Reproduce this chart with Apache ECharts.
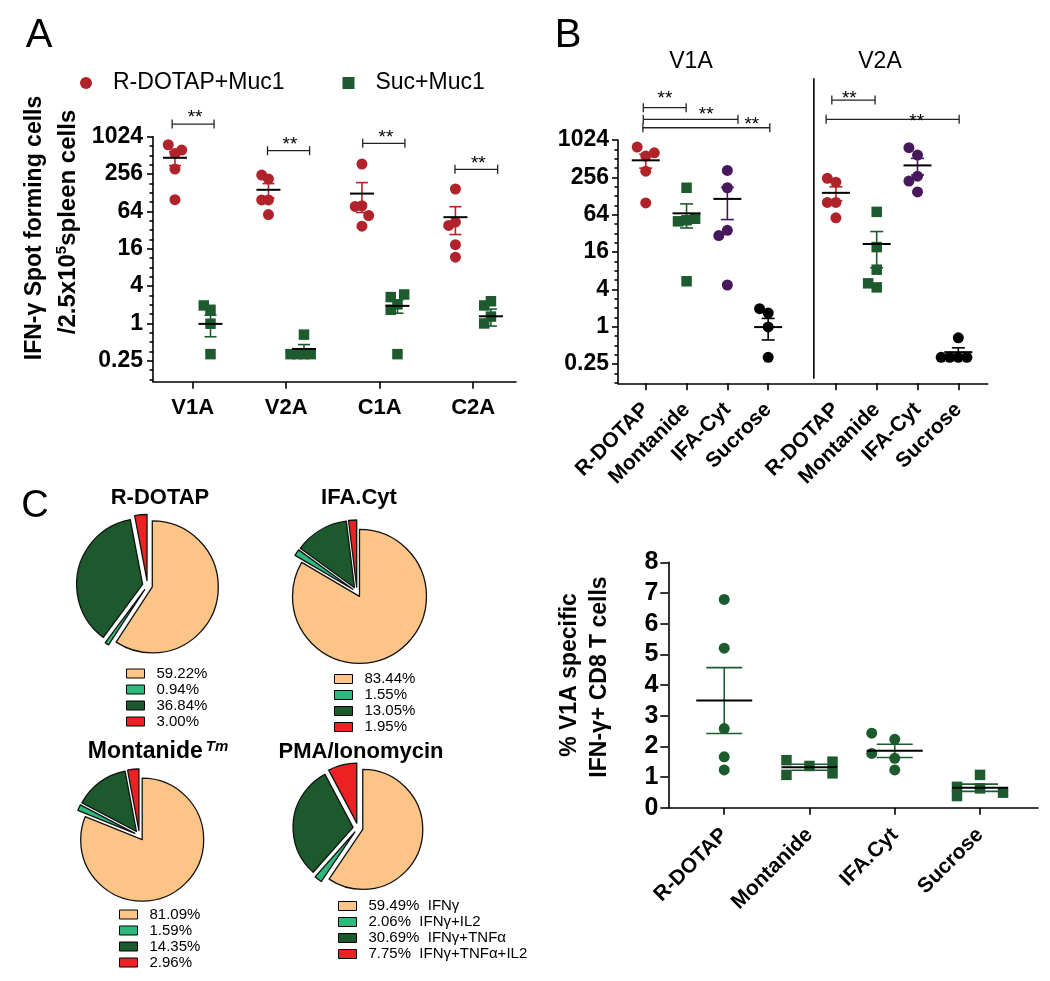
<!DOCTYPE html>
<html>
<head>
<meta charset="utf-8">
<script src="https://cdn.jsdelivr.net/npm/echarts@6/dist/echarts.min.js"></script>
<style>
  html, body { margin: 0; padding: 0; background: #fff; }
  #chart { width: 1050px; height: 981px; }
</style>
</head>
<body>
<div id="chart"></div>
<script>
const FONT = '"Liberation Sans", Arial, sans-serif';
const RED = '#b1232b';
const GREEN = '#1d5b2e';
const PURPLE = '#47195c';
const BLACK = '#000';
const PIE_COLORS = ['#fdc487', '#2db87c', '#1c5a2d', '#ed2124'];

// --- Panel A: ELISpot, R-DOTAP+Muc1 vs Suc+Muc1 (0 = below log axis)
const peptidesA = ['V1A', 'V2A', 'C1A', 'C2A'];
const rdotapMuc1 = [
  [550, 760, 625, 309, 99],
  [214, 247, 98, 98, 57],
  [372, 79, 77, 55, 37],
  [147, 43, 38, 18.6, 11.7],
];
const sucMuc1 = [
  [0.99, 1.66, 1.95, 0.32, 0],
  [0.66, 0.32, 0.32, 0.32, 0.32],
  [2.03, 1.66, 2.66, 2.93, 0.32],
  [1.29, 1.0, 1.95, 2.28, 0],
];
// significance brackets: [from, level, to, starX, starLevel]
const sigA = [
  [-0.22, 1640, 0.228, 0.025, 2440],
  [0.8, 609, 1.25, 1.04, 874],
  [1.818, 802, 2.27, 2.067, 1160],
  [2.805, 305, 3.262, 3.055, 430],
];

// --- Panel B: V1A / V2A by adjuvant
const adjuvants = ['R-DOTAP', 'Montanide', 'IFA-Cyt', 'Sucrose'];
const v1aSpots = [
  [564, 787, 638, 322, 99],
  [52, 174, 50, 55, 5.4],
  [331, 174, 35.8, 29.4, 4.7],
  [0.99, 1.66, 1.95, 0.32, 0],
];
const v2aSpots = [
  [214, 247, 101, 101, 57],
  [71, 19.2, 8.3, 4.3, 5.0],
  [585, 770, 267, 223, 149],
  [0.66, 0.32, 0.32, 0.32, 0.32],
];
const v2aShift = 4.66;
const sigB = [
  [-0.06, 3400, 0.99, 0.47, 5440],
  [-0.06, 2210, 2.26, 1.48, 3040],
  [-0.07, 1617, 3.04, 2.6, 2070],
  [4.56, 4510, 5.62, 4.99, 5440],
  [4.42, 2210, 7.68, 6.64, 2350],
];
const dividerB = [[4.12, 0.144, 10200]];

// --- Panel C: cytokine profile pies (%)
const cytokines = ['IFNγ', 'IFNγ+IL2', 'IFNγ+TNFα', 'IFNγ+TNFα+IL2'];
const pieRdotap = [59.22, 0.94, 36.84, 3.0];
const pieIfaCyt = [83.44, 1.55, 13.05, 1.95];
const pieMontanide = [81.09, 1.59, 14.35, 2.96];
const piePma = [59.49, 2.06, 30.69, 7.75];

// --- Panel D: % V1A specific IFN-γ+ CD8 T cells
const adjuvantsD = ['R-DOTAP', 'Montanide', 'IFA.Cyt', 'Sucrose'];
const v1aCd8 = [
  [6.79, 5.2, 2.58, 1.66, 1.23],
  [1.36, 1.55, 1.5, 1.07, 1.12],
  [2.23, 2.43, 1.61, 1.77, 1.23],
  [1.07, 0.63, 0.68, 0.49, 0.38],
];

const logTicks = [0.25, 1, 4, 16, 64, 256, 1024];
const minorTicks = logTicks.flatMap((m) => [m / 2 ** 0.5, m / 2, m / 2 ** 1.5]);

const mean = (a) => a.reduce((s, v) => s + v, 0) / a.length;
const sem = (a) => {
  const m = mean(a);
  return Math.sqrt(a.reduce((s, v) => s + (v - m) ** 2, 0) / (a.length - 1) / a.length);
};

// simple beeswarm: spread points that would overlap
const swarm = (vals, thr, toY) => {
  const placed = [];
  return vals.map((v) => {
    const y = toY(v);
    for (const k of [0, -1, 1, -2, 2]) {
      if (!placed.some((p) => p.k === k && Math.abs(p.y - y) < thr)) {
        placed.push({ k, y });
        return k;
      }
    }
    return 0;
  });
};

const points = (groups, centers, step, thr, toY) =>
  groups.flatMap((vals, g) => {
    const shown = vals.filter((v) => v > 0);
    const slots = swarm(shown, thr, toY);
    return shown.map((v, i) => [centers[g] + slots[i] * step, v]);
  });

const Y_OF_GRID = [0, 2, 4];
const AXIS_LINE = { color: '#000', width: 1.6 };

const scatter = (name, data, color, symbol, grid) => ({
  name, type: 'scatter', xAxisIndex: grid, yAxisIndex: Y_OF_GRID[grid], data, symbol,
  symbolSize: symbol === 'rect' ? 10.5 : 11,
  itemStyle: { color, opacity: 1 }, emphasis: { disabled: true }, z: 3,
});

const errorBars = (groups, centers, color, halfMean, halfCap, grid) => ({
  type: 'custom', xAxisIndex: grid, yAxisIndex: Y_OF_GRID[grid], silent: true, z: 4,
  data: groups.map((vals, g) => [centers[g], mean(vals), sem(vals)]),
  renderItem: (params, api) => {
    const x = api.value(0), m = api.value(1), e = api.value(2);
    const [cx, cy] = api.coord([x, m]);
    const top = api.coord([x, m + e])[1];
    const bot = m - e > 0 ? api.coord([x, m - e])[1] : cy;
    const ls = { stroke: color, lineWidth: 1.6 };
    return {
      type: 'group',
      children: [
        { type: 'line', shape: { x1: cx, y1: top, x2: cx, y2: bot }, style: ls },
        { type: 'line', shape: { x1: cx - halfCap, y1: top, x2: cx + halfCap, y2: top }, style: ls },
        { type: 'line', shape: { x1: cx - halfCap, y1: bot, x2: cx + halfCap, y2: bot }, style: ls },
        { type: 'line', shape: { x1: cx - halfMean, y1: cy, x2: cx + halfMean, y2: cy }, style: { stroke: '#000', lineWidth: 2 } },
      ],
    };
  },
});

const brackets = (items, grid) => ({
  type: 'custom', xAxisIndex: grid, yAxisIndex: Y_OF_GRID[grid], silent: true, clip: false, z: 5,
  data: items,
  renderItem: (params, api) => {
    const [x1, y] = api.coord([api.value(0), api.value(1)]);
    const x2 = api.coord([api.value(2), api.value(1)])[0];
    const star = api.coord([api.value(3), api.value(4)]);
    const st = { stroke: '#222', lineWidth: 1.3 };
    return {
      type: 'group',
      children: [
        { type: 'line', shape: { x1, y1: y, x2, y2: y }, style: st },
        { type: 'line', shape: { x1, y1: y - 4.5, x2: x1, y2: y + 4.5 }, style: st },
        { type: 'line', shape: { x1: x2, y1: y - 4.5, x2, y2: y + 4.5 }, style: st },
        { type: 'text', x: star[0], y: star[1] + 4,
          style: { text: '**', font: `19px ${FONT}`, fill: '#000', align: 'center', verticalAlign: 'middle' } },
      ],
    };
  },
});

const catAxis = (grid, min, max, ticks, names, fontSize, rotate, margin) => ({
  gridIndex: grid, type: 'value', min, max,
  axisLine: { onZero: false, lineStyle: AXIS_LINE }, splitLine: { show: false },
  axisTick: { customValues: ticks, length: 7, lineStyle: AXIS_LINE },
  axisLabel: {
    customValues: ticks, rotate, margin, fontSize, fontWeight: 'bold', fontFamily: FONT, color: '#000',
    formatter: (v) => names[ticks.findIndex((t) => Math.abs(t - v) < 1e-6)] || '',
  },
});

const logAxis = (grid, min, fontSize, margin) => [
  {
    gridIndex: grid, type: 'log', logBase: 2, min, max: 1025, position: 'left',
    axisLine: { show: true, onZero: false, lineStyle: AXIS_LINE }, splitLine: { show: false },
    minorTick: { show: false },
    axisTick: { customValues: logTicks, length: 6, lineStyle: AXIS_LINE },
    axisLabel: { customValues: logTicks, formatter: (v) => String(v), margin, fontSize,
      fontWeight: 'bold', fontFamily: FONT, color: '#000' },
  },
  {
    gridIndex: grid, type: 'log', logBase: 2, min, max: 1025, position: 'left',
    axisLine: { show: false, onZero: false }, splitLine: { show: false }, axisLabel: { show: false },
    axisTick: { customValues: minorTicks, length: 3.5, lineStyle: AXIS_LINE },
  },
];

const pie = (vals, center, radius) => ({
  type: 'pie', center, radius, startAngle: 90, clockwise: true,
  selectedMode: 'multiple', selectedOffset: 5, silent: true,
  label: { show: false }, labelLine: { show: false }, emphasis: { disabled: true },
  itemStyle: { borderColor: '#111', borderWidth: 1.3 },
  select: { itemStyle: { borderColor: '#111', borderWidth: 1.3 } },
  data: cytokines.map((name, i) => ({ name, value: vals[i], selected: true, itemStyle: { color: PIE_COLORS[i] } })),
});

const pieLegend = (vals, left, top, withNames) => ({
  orient: 'vertical', left, top, padding: 0, data: cytokines, selectedMode: false, icon: 'rect',
  itemWidth: 18, itemHeight: 9, itemGap: 1,
  itemStyle: { borderColor: '#000', borderWidth: 1 },
  textStyle: { fontFamily: FONT, fontSize: 15, color: '#000', lineHeight: 14, padding: [0, 0, 0, 7] },
  formatter: (name) => {
    const i = cytokines.indexOf(name);
    return `${vals[i].toFixed(2)}%` + (withNames ? `  ${name}` : '');
  },
});

const text = (t, x, y, size, weight, rotation, rich) => ({
  type: 'text', x, y, rotation: rotation || 0, silent: true,
  style: {
    text: t, font: `${weight} ${size}px ${FONT}`, fill: '#000',
    align: 'center', verticalAlign: 'middle', textAlign: 'center', textVerticalAlign: 'middle', rich,
  },
});

const xA = peptidesA.map((_, i) => i);
const xB = [...adjuvants.map((_, i) => i), ...adjuvants.map((_, i) => i + v2aShift)];
const xD = adjuvantsD.map((_, i) => i);
const log2 = (v) => Math.log2(v);
const same = (v) => v;

const redCenters = xA.map((x) => x - 0.19);
const greenCenters = xA.map((x) => x + 0.19);

const seriesB = [
  ['R-DOTAP', RED, 'circle'],
  ['Montanide', GREEN, 'rect'],
  ['IFA-Cyt', PURPLE, 'circle'],
  ['Sucrose', BLACK, 'circle'],
].flatMap(([name, color, symbol], a) => {
  const groups = [v1aSpots[a], v2aSpots[a]];
  const centers = [a, a + v2aShift];
  return [
    scatter(name, points(groups, centers, 0.21, 0.6, log2), color, symbol, 1),
    errorBars(groups, centers, color, 14, 6.5, 1),
  ];
});

const seriesD = adjuvantsD.flatMap((name, a) => {
  const symbol = a % 2 === 0 ? 'circle' : 'rect';
  return [
    scatter(name, points([v1aCd8[a]], [a], 0.27, 0.3, same), GREEN, symbol, 2),
    errorBars([v1aCd8[a]], [a], GREEN, 28, 18, 2),
  ];
});

const option = {
  animation: false,
  backgroundColor: '#fff',
  grid: [
    { left: 153, top: 136.7, width: 363, height: 245, outerBoundsMode: 'none' },
    { left: 618, top: 140, width: 369.7, height: 243.3, outerBoundsMode: 'none' },
    { left: 668.3, top: 562.3, width: 369.7, height: 245.4, outerBoundsMode: 'none' },
  ],
  xAxis: [
    catAxis(0, -0.425, 3.458, xA, peptidesA, 22, 0, 15),
    catAxis(1, -0.68, 8.38, xB, [...adjuvants, ...adjuvants], 21, 45, 23),
    catAxis(2, -0.656, 3.68, xD, adjuvantsD, 21, 45, 24),
  ],
  yAxis: [
    ...logAxis(0, 0.115, 23, 10),
    ...logAxis(1, 0.122, 23, 9),
    {
      gridIndex: 2, type: 'value', min: 0, max: 8, interval: 1,
      axisLine: { show: true, onZero: false, lineStyle: AXIS_LINE }, splitLine: { show: false },
      axisTick: { show: true, length: 8, lineStyle: AXIS_LINE },
      axisLabel: { margin: 10, fontSize: 25, fontWeight: 'bold', fontFamily: FONT, color: '#000' },
    },
  ],
  legend: [
    {
      left: 80, top: 70, padding: 0, selectedMode: false, itemWidth: 12, itemHeight: 12, itemGap: 58,
      data: [{ name: 'R-DOTAP+Muc1', icon: 'circle' }, { name: 'Suc+Muc1', icon: 'rect' }],
      textStyle: { fontFamily: FONT, fontSize: 23, color: '#000', lineHeight: 26, padding: [0, 0, 0, 16] },
    },
    pieLegend(pieRdotap, 126, 666, false),
    pieLegend(pieIfaCyt, 334, 671.5, false),
    pieLegend(pieMontanide, 119, 907, false),
    pieLegend(piePma, 338, 898.5, true),
  ],
  series: [
    scatter('R-DOTAP+Muc1', points(rdotapMuc1, redCenters, 0.072, 0.6, log2), RED, 'circle', 0),
    scatter('Suc+Muc1', points(sucMuc1, greenCenters, 0.072, 0.6, log2), GREEN, 'rect', 0),
    errorBars(rdotapMuc1, redCenters, RED, 12, 6, 0),
    errorBars(sucMuc1, greenCenters, GREEN, 12, 6, 0),
    brackets(sigA, 0),
    ...seriesB,
    brackets(sigB, 1),
    {
      type: 'custom', xAxisIndex: 1, yAxisIndex: 2, silent: true, clip: false, z: 5,
      data: dividerB,
      renderItem: (params, api) => {
        const [x, y0] = api.coord([api.value(0), api.value(1)]);
        const y1 = api.coord([api.value(0), api.value(2)])[1];
        return { type: 'line', shape: { x1: x, y1: y0, x2: x, y2: y1 }, style: { stroke: '#000', lineWidth: 1.6 } };
      },
    },
    ...seriesD,
    pie(pieRdotap, [147.5, 585.5], 66),
    pie(pieIfaCyt, [357, 592], 67),
    pie(pieMontanide, [139.4, 835.5], 61.5),
    pie(piePma, [358, 828], 60),
  ],
  graphic: [
    text('A', 39, 36, 40, 'normal'),
    text('B', 568, 36, 40, 'normal'),
    text('C', 35, 507, 38, 'normal'),
    text('V1A', 691, 62, 23, 'normal'),
    text('V2A', 880, 62, 23, 'normal'),
    text('R-DOTAP', 160, 498, 22, 'bold'),
    text('IFA.Cyt', 359, 498, 22, 'bold'),
    text('{b|Montanide}{t|Tm}', 158, 752, 23, 'bold', 0, {
      b: { fontSize: 23, fontWeight: 'bold', fontFamily: FONT, lineHeight: 26 },
      t: { fontSize: 15, fontWeight: 'bold', fontStyle: 'italic', fontFamily: FONT, verticalAlign: 'top', lineHeight: 26, padding: [0, 0, 0, 3] },
    }),
    text('PMA/Ionomycin', 361, 752, 22, 'bold'),
    text('IFN-γ Spot forming cells', 35, 228, 23, 'bold', Math.PI / 2),
    text('{b|/2.5x10}{s|5}{b|spleen cells}', 68, 222, 24, 'bold', Math.PI / 2, {
      b: { fontSize: 24, fontWeight: 'bold', fontFamily: FONT, lineHeight: 28 },
      s: { fontSize: 15, fontWeight: 'bold', fontFamily: FONT, verticalAlign: 'top', lineHeight: 28 },
    }),
    text('% V1A specific', 570, 675, 23, 'bold', Math.PI / 2),
    text('IFN-γ+ CD8 T cells', 600, 677, 23, 'bold', Math.PI / 2),
  ],
};

const chart = echarts.init(document.getElementById('chart'));
chart.setOption(option);
</script>
</body>
</html>
